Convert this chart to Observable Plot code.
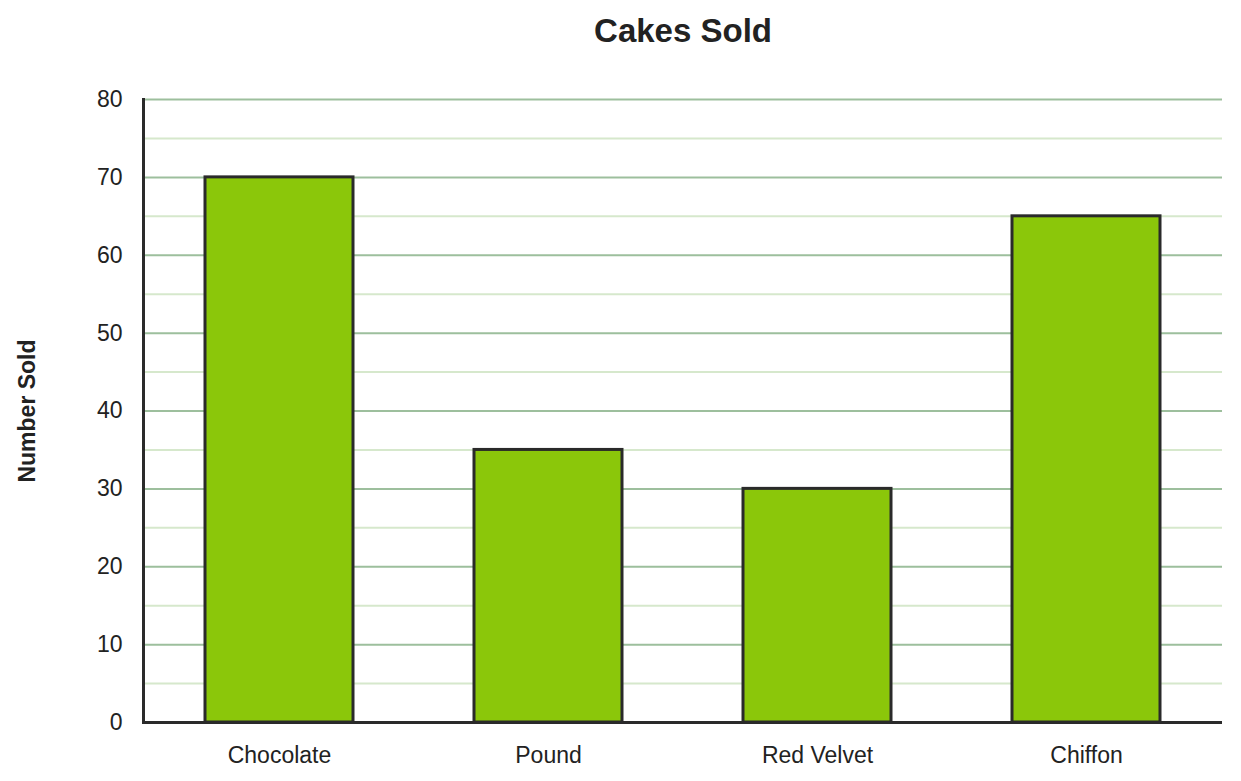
<!DOCTYPE html>
<html>
<head>
<meta charset="utf-8">
<script src="https://cdn.jsdelivr.net/npm/d3@7"></script>
<script src="https://cdn.jsdelivr.net/npm/@observablehq/plot@0.6"></script>
<style>
  html, body { margin: 0; padding: 0; background: #fff; }
  svg { display: block; }
</style>
</head>
<body>
<div id="chart"></div>
<script>
const categories = ["Chocolate", "Pound", "Red Velvet", "Chiffon"];
const values = [70, 35, 30, 65];
const majorTicks = [0, 10, 20, 30, 40, 50, 60, 70, 80];
const minorTicks = [5, 15, 25, 35, 45, 55, 65, 75];
const titleText = "Cakes Sold";
const yLabel = "Number Sold";

const data = categories.map((c, i) => ({category: c, value: values[i]}));

const plot = Plot.plot({
  width: 1241,
  height: 781,
  marginLeft: 143,
  marginRight: 19,
  marginTop: 99,
  marginBottom: 59,
  style: {fontFamily: "'Liberation Sans', Arial, sans-serif", fontSize: "23px", color: "#222"},
  x: {domain: categories, paddingInner: 0.45, paddingOuter: 0.225, label: null},
  y: {domain: [0, 80], ticks: majorTicks, label: null},
  marks: [
    Plot.ruleY(minorTicks, {stroke: "#d6e8cc", strokeWidth: 2}),
    Plot.ruleY(majorTicks, {stroke: "#9dbf9d", strokeWidth: 2}),
    Plot.barY(data, {x: "category", y: "value", fill: "#8bc70a", stroke: "#2a2a2a", strokeWidth: 3}),
    Plot.axisX({tickSize: 0, tickPadding: 24, fontSize: 23, fill: "#222"}),
    Plot.axisY({ticks: majorTicks, tickSize: 0, tickPadding: 21, fontSize: 23, fill: "#222"}),
    Plot.frame({anchor: "left", stroke: "#2a2a2a", strokeWidth: 3}),
    Plot.ruleY([0], {stroke: "#2a2a2a", strokeWidth: 3}),
    Plot.text([titleText], {frameAnchor: "top", lineAnchor: "middle", dy: -68, fontSize: 33, fontWeight: "bold", fill: "#222"}),
    Plot.text([yLabel], {frameAnchor: "left", textAnchor: "middle", lineAnchor: "middle", dx: -116, rotate: -90, fontSize: 23, fontWeight: "bold", fill: "#222"})
  ]
});
document.getElementById("chart").appendChild(plot);
</script>
</body>
</html>
